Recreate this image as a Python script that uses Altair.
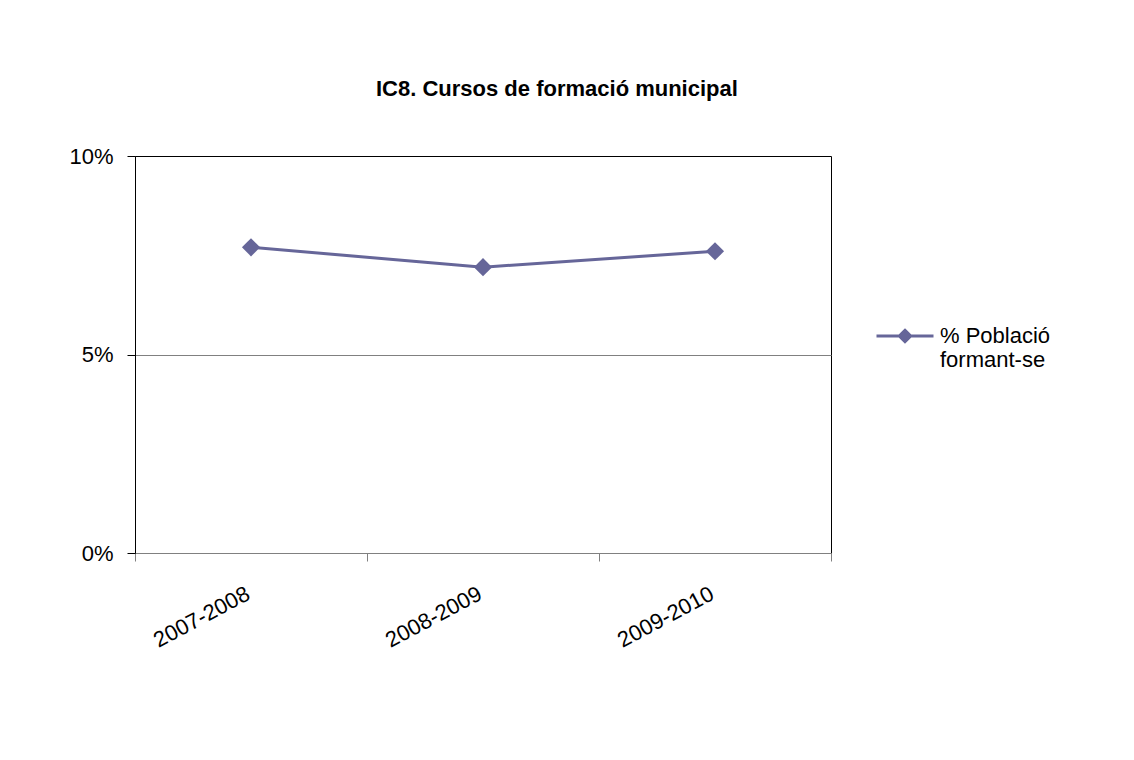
import altair as alt
import pandas as pd

# Data
cursos = ["2007-2008", "2008-2009", "2009-2010"]
poblacio_formant = [0.077, 0.072, 0.076]
serie = "% Població formant-se"

df = pd.DataFrame({"curs": cursos, "valor": poblacio_formant, "serie": [serie] * len(cursos)})

FONT = "Liberation Sans"
COL = "#666699"

x_enc = alt.X(
    "curs:N",
    sort=cursos,
    title=None,
    scale=alt.Scale(paddingInner=0, paddingOuter=0),
    axis=alt.Axis(
        tickBand="extent",
        labelAngle=-28,
        labelAlign="right",
        labelBaseline="top",
        labelPadding=22,
        labelOffset=-8,
        labelFontSize=22,
        labelFont=FONT,
        labelColor="black",
        tickSize=8,
        tickColor="#808080",
        domainColor="#808080",
        grid=False,
    ),
)
y_enc = alt.Y(
    "valor:Q",
    title=None,
    scale=alt.Scale(domain=[0, 0.1], nice=False),
    axis=alt.Axis(
        values=[0, 0.05, 0.1],
        format=".0%",
        labelFontSize=22,
        labelFont=FONT,
        labelColor="black",
        labelPadding=14,
        tickSize=8,
        tickColor="black",
        domainColor="black",
        grid=True,
        gridColor="#808080",
        gridOpacity={"condition": {"test": "datum.value === 0.05", "value": 1}, "value": 0},
    ),
)
color_enc = alt.Color(
    "serie:N",
    scale=alt.Scale(domain=[serie], range=[COL]),
    legend=alt.Legend(
        title=None,
        orient="none",
        legendX=740,
        legendY=140,
        padding=0,
        symbolType="M-1,0.35L1,0.35M0,0.15L0.2,0.35L0,0.55L-0.2,0.35Z",
        symbolSize=3249,
        symbolStrokeWidth=3,
        symbolFillColor=COL,
        symbolStrokeColor=COL,
        labelFont=FONT,
        labelFontSize=22,
        labelColor="black",
        labelOffset=5,
        labelBaseline="top",
        labelExpr="[slice(datum.label, 0, 10), slice(datum.label, 11)]",
    ),
)

base = alt.Chart(df)
line = base.mark_line(strokeWidth=3).encode(x=x_enc, y=y_enc, color=color_enc)
pts = base.mark_point(shape="diamond", filled=True, size=330, opacity=1).encode(
    x=x_enc, y=y_enc, color=color_enc
)

chart = (
    alt.layer(line, pts)
    .properties(
        width=696,
        height=397,
        autosize=alt.AutoSizeParams(type="none"),
        padding={"left": 127, "top": 148, "right": 295, "bottom": 199},
        title=alt.TitleParams(
            "IC8. Cursos de formació municipal",
            anchor="start",
            frame="group",
            dx=241,
            offset=27,
            baseline="alphabetic",
            font=FONT,
            fontSize=22,
            fontWeight="bold",
            color="black",
        ),
    )
    .configure(background="white")
    .configure_view(stroke="black", strokeWidth=1)
)

chart.save("out.html", embed_options={"renderer": "svg", "actions": False})
